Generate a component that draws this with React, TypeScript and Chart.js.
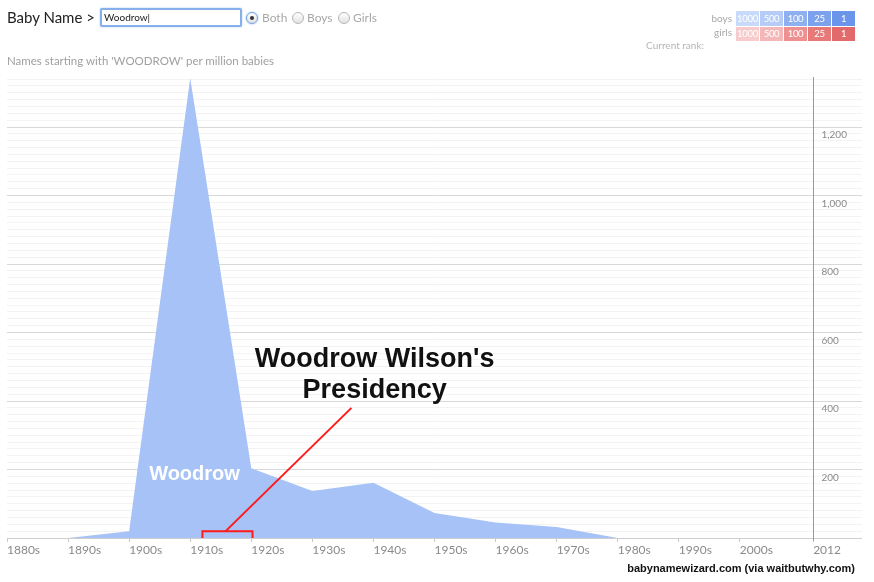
import React, { useEffect, useRef } from 'react';
import { Chart, registerables } from 'chart.js';

Chart.register(...registerables);

// ---- data ----
const decades = [1880, 1890, 1900, 1910, 1920, 1930, 1940, 1950, 1960, 1970, 1980, 1990, 2000, 2012];
const perMillion = [0, 0, 20, 1343, 204, 137, 161, 73, 45, 32, 0, 0, 0, 0];
const xTickValues = [1880, 1890, 1900, 1910, 1920, 1930, 1940, 1950, 1960, 1970, 1980, 1990, 2000, 2012];
const xTickLabels = ['1880s', '1890s', '1900s', '1910s', '1920s', '1930s', '1940s', '1950s', '1960s', '1970s', '1980s', '1990s', '2000s', '2012'];
const yLabelValues = [200, 400, 600, 800, 1000, 1200];
const yLabelTexts = ['200', '400', '600', '800', '1,000', '1,200'];
const rankLabels = ['1000', '500', '100', '25', '1'];
const boysColors = ['#c8daf9', '#b6ccf6', '#8fb0f0', '#7ca2ee', '#6b95eb'];
const girlsColors = ['#f7cbcb', '#f3b7b7', '#ee9090', '#e87979', '#e36a6a'];
const presidencyStart = 1912;
const presidencyEnd = 1920.2;

const FILL = 'rgb(167,194,246)';

const overlayPlugin = {
  id: 'overlay',
  afterDatasetsDraw(chart: any) {
    const { ctx, chartArea, scales } = chart;
    const x = scales.x;
    const y = scales.y;
    ctx.save();
    // 2012 vertical line
    const xv = Math.round(x.getPixelForValue(2012)) + 0.5;
    ctx.strokeStyle = '#9a9a9a';
    ctx.lineWidth = 1;
    ctx.beginPath();
    ctx.moveTo(xv, chartArea.top);
    ctx.lineTo(xv, chartArea.bottom + 3);
    ctx.stroke();

    // y labels
    ctx.font = '10px Lato';
    ctx.fillStyle = '#8a8a8a';
    ctx.textAlign = 'left';
    ctx.textBaseline = 'middle';
    yLabelValues.forEach((v, i) => {
      ctx.fillText(yLabelTexts[i], xv + 8, y.getPixelForValue(v) + 8);
    });

    // "Woodrow" series label
    ctx.font = 'bold 20px "Liberation Sans", Arial, sans-serif';
    ctx.fillStyle = '#ffffff';
    ctx.textAlign = 'center';
    ctx.textBaseline = 'alphabetic';
    ctx.fillText('Woodrow', x.getPixelForValue(1910.7), y.getPixelForValue(169));

    // presidency annotation
    ctx.font = 'bold 27px "Liberation Sans", Arial, sans-serif';
    ctx.fillStyle = '#111111';
    const tx = x.getPixelForValue(1940.2);
    const ty = y.getPixelForValue(500);
    ctx.fillText("Woodrow Wilson's", tx, ty);
    ctx.fillText('Presidency', tx, ty + 31);

    // red bracket and pointer line
    const bx1 = x.getPixelForValue(presidencyStart);
    const bx2 = x.getPixelForValue(presidencyEnd);
    const bTop = y.getPixelForValue(20);
    const bBot = y.getPixelForValue(0);
    ctx.strokeStyle = '#ff1a1a';
    ctx.lineWidth = 2;
    ctx.beginPath();
    ctx.moveTo(bx1, bBot);
    ctx.lineTo(bx1, bTop);
    ctx.lineTo(bx2, bTop);
    ctx.lineTo(bx2, bBot);
    ctx.stroke();
    ctx.beginPath();
    ctx.moveTo(x.getPixelForValue(1915.8), bTop);
    ctx.lineTo(x.getPixelForValue(1936.4), y.getPixelForValue(380));
    ctx.stroke();
    ctx.restore();
  },
};

function Radio({ left, checked }: { left: number; checked?: boolean }) {
  return (
    <span
      style={{
        position: 'absolute',
        left,
        top: 12,
        width: 10,
        height: 10,
        borderRadius: '50%',
        border: checked ? '1px solid #6f9fe0' : '1px solid #b5b5b5',
        background: 'linear-gradient(#ffffff, #e2e2e2)',
        boxShadow: checked ? '0 0 2px #8ab4ee' : 'none',
      }}
    >
      {checked ? (
        <span
          style={{
            position: 'absolute',
            left: 3,
            top: 3,
            width: 4,
            height: 4,
            borderRadius: '50%',
            background: '#333',
          }}
        />
      ) : null}
    </span>
  );
}

export default function App() {
  const canvasRef = useRef<HTMLCanvasElement | null>(null);

  useEffect(() => {
    const canvas = canvasRef.current;
    if (!canvas) return;
    const points = decades.map((d, i) => ({ x: d, y: perMillion[i] }));
    const chart = new Chart(canvas, {
      type: 'line',
      data: {
        datasets: [
          {
            label: 'Woodrow',
            data: points,
            fill: 'origin',
            backgroundColor: FILL,
            borderColor: FILL,
            borderWidth: 0,
            pointRadius: 0,
            tension: 0,
          },
        ],
      },
      options: {
        responsive: false,
        animation: false,
        events: [],
        layout: { padding: { left: 7, right: 12, top: 77, bottom: 0 } },
        plugins: { legend: { display: false }, tooltip: { enabled: false } },
        scales: {
          x: {
            type: 'linear',
            min: 1880,
            max: 2020,
            afterBuildTicks: (scale: any) => {
              scale.ticks = xTickValues.map((v) => ({ value: v }));
            },
            afterFit: (scale: any) => {
              scale.height = 44;
            },
            grid: {
              display: true,
              drawOnChartArea: false,
              drawTicks: true,
              tickLength: 4,
              color: '#c8c8c8',
            },
            border: { display: false },
            ticks: {
              autoSkip: false,
              maxRotation: 0,
              minRotation: 0,
              align: 'start',
              padding: 1,
              color: '#8a8a8a',
              font: { family: 'Lato', size: 12 },
              callback: (value: any) => {
                const idx = xTickValues.indexOf(Number(value));
                return idx >= 0 ? xTickLabels[idx] : '';
              },
            },
          },
          y: {
            type: 'linear',
            min: 0,
            max: 1346,
            afterBuildTicks: (scale: any) => {
              const t = [];
              for (let v = 0; v <= 1340; v += 20) t.push({ value: v });
              scale.ticks = t;
            },
            grid: {
              drawTicks: false,
              color: (c: any) => {
                const v = c.tick ? c.tick.value : 0;
                if (v === 0) return '#cfcfcf';
                return v % 200 === 0 ? '#d8d8d8' : '#f3f3f3';
              },
            },
            border: { display: false },
            ticks: { display: false },
          },
        },
      },
      plugins: [overlayPlugin],
    } as any);
    return () => chart.destroy();
  }, []);

  const grayText: React.CSSProperties = {
    position: 'absolute',
    fontFamily: 'Lato, sans-serif',
    color: '#a8a8a8',
    whiteSpace: 'nowrap',
  };

  const cell: React.CSSProperties = {
    position: 'absolute',
    width: 23,
    color: '#fff',
    fontFamily: 'Lato, sans-serif',
    fontSize: 9.5,
    letterSpacing: -0.3,
    textAlign: 'center',
    overflow: 'hidden',
    whiteSpace: 'nowrap',
  };

  return (
    <div
      style={{
        position: 'absolute',
        left: 0,
        top: 0,
        width: 874,
        height: 582,
        background: '#ffffff',
        overflow: 'hidden',
        fontFamily: 'Lato, sans-serif',
      }}
    >
      <canvas
        ref={canvasRef}
        width={874}
        height={582}
        style={{ position: 'absolute', left: 0, top: 0, width: 874, height: 582 }}
      />
      {/* header */}
      <span style={{ ...grayText, left: 7, top: 8, fontSize: 15, color: '#222' }}>Baby Name &gt;</span>
      <span
        style={{
          position: 'absolute',
          left: 100,
          top: 8,
          width: 136,
          height: 15,
          border: '2px solid #86b0ea',
          borderRadius: 2,
          boxShadow: '0 0 2px #a9c8f2',
          fontFamily: 'Lato, sans-serif',
          fontSize: 10,
          lineHeight: '15px',
          paddingLeft: 2,
          color: '#222',
          background: '#fff',
        }}
      >
        Woodrow|
      </span>
      <Radio left={246} checked />
      <span style={{ ...grayText, left: 262, top: 10, fontSize: 12 }}>Both</span>
      <Radio left={292} />
      <span style={{ ...grayText, left: 307, top: 10, fontSize: 12 }}>Boys</span>
      <Radio left={338} />
      <span style={{ ...grayText, left: 353, top: 10, fontSize: 12 }}>Girls</span>

      <span style={{ ...grayText, left: 7, top: 54, fontSize: 11.5, color: '#a0a0a0' }}>
        Names starting with 'WOODROW' per million babies
      </span>

      {/* rank legend */}
      <span style={{ ...grayText, right: 874 - 732, top: 12, fontSize: 10, textAlign: 'right' }}>boys</span>
      <span style={{ ...grayText, right: 874 - 732, top: 26, fontSize: 10, textAlign: 'right' }}>girls</span>
      <span style={{ ...grayText, right: 874 - 704, top: 39, fontSize: 10, textAlign: 'right', color: '#b5b5b5' }}>
        Current rank:
      </span>
      {rankLabels.map((r, i) => (
        <span
          key={'b' + r}
          style={{ ...cell, left: 736 + i * 24, top: 11, height: 15, lineHeight: '15px', background: boysColors[i] }}
        >
          {r}
        </span>
      ))}
      {rankLabels.map((r, i) => (
        <span
          key={'g' + r}
          style={{ ...cell, left: 736 + i * 24, top: 27, height: 14, lineHeight: '14px', background: girlsColors[i] }}
        >
          {r}
        </span>
      ))}

      {/* credit */}
      <span
        style={{
          position: 'absolute',
          right: 874 - 855,
          top: 562,
          fontFamily: '"Liberation Sans", Arial, sans-serif',
          fontWeight: 'bold',
          fontSize: 11,
          color: '#111',
          whiteSpace: 'nowrap',
        }}
      >
        babynamewizard.com (via waitbutwhy.com)
      </span>
    </div>
  );
}
